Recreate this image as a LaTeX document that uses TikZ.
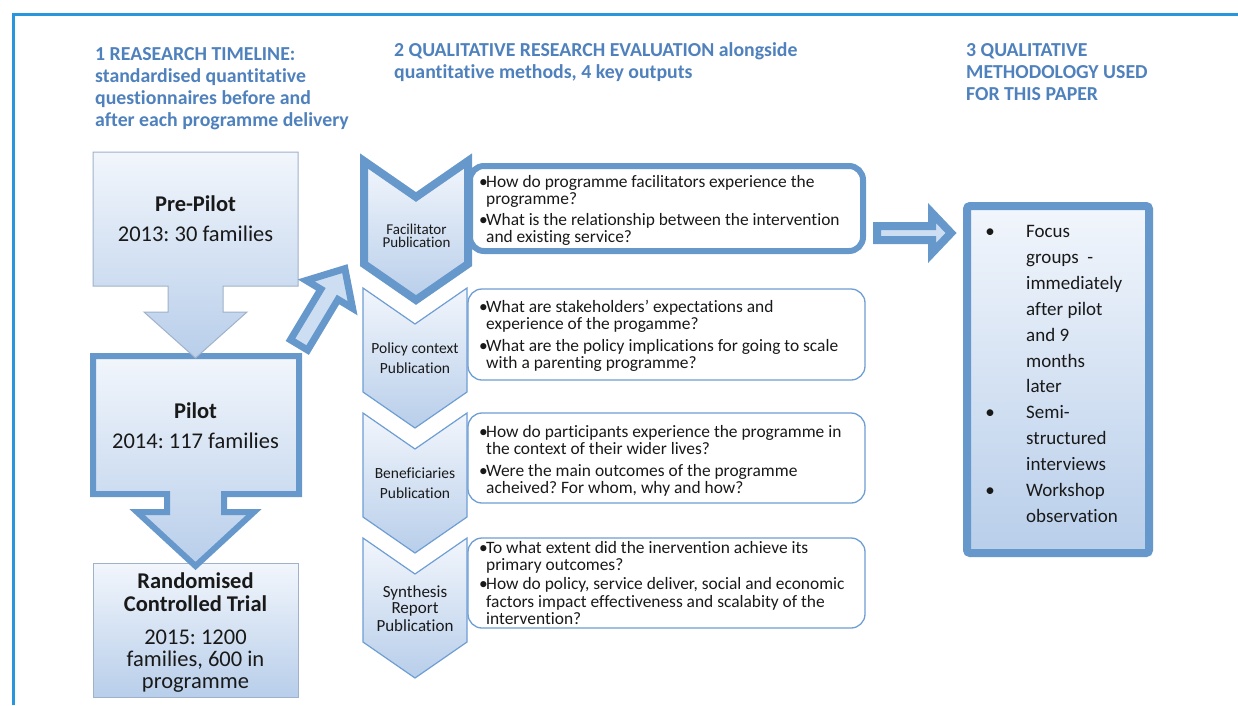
\documentclass[tikz,border=0pt]{standalone}
\usepackage{fontspec}
\setmainfont{Carlito}[Ligatures={NoCommon}]
\frenchspacing
\definecolor{hdr}{RGB}{79,129,189}
\definecolor{frameblue}{RGB}{40,150,220}
\definecolor{thickb}{RGB}{102,152,204}
\definecolor{thinb}{RGB}{110,158,212}
\definecolor{greyb}{RGB}{160,178,202}
\definecolor{ftop}{RGB}{242,246,252}
\definecolor{fbot}{RGB}{184,206,234}
\definecolor{arrfill}{RGB}{205,222,242}
\definecolor{ink}{RGB}{25,25,25}
\tikzset{
  hdrtext/.style={anchor=base west, inner sep=0pt, text=hdr, font=\fontsize{19.8}{23}\selectfont\bfseries},
  bigtitle/.style={anchor=base, inner sep=0pt, text=ink, font=\fontsize{22.5}{27}\selectfont\bfseries},
  bigtext/.style={anchor=base, inner sep=0pt, text=ink, font=\fontsize{22.5}{27}\selectfont},
  chevlab/.style={anchor=base, inner sep=0pt, text=ink, font=\fontsize{15.5}{18}\selectfont},
  boxtext/.style={anchor=base west, inner sep=0pt, text=ink, font=\fontsize{17.4}{20}\selectfont},
  rtext/.style={anchor=base west, inner sep=0pt, text=ink, font=\fontsize{19}{23}\selectfont},
  rbullet/.style={anchor=base, inner sep=0pt, text=ink, font=\fontsize{19}{23}\selectfont},
  thinshape/.style={draw=greyb, line width=1pt, top color=ftop, bottom color=fbot},
  thickshape/.style={draw=thickb, line width=6pt, top color=ftop, bottom color=fbot},
  chevthin/.style={draw=thinb, line width=1.2pt, top color=ftop, bottom color=fbot},
  qbox/.style={draw=thinb, line width=1.3pt, fill=white, rounded corners=14pt},
}
\begin{document}
\begin{tikzpicture}[x=1pt, y=-1pt]
\useasboundingbox (0,0) rectangle (1238,705);
\fill[white] (0,0) rectangle (1238,705);
% frame
\draw[frameblue, line width=2.4pt] (13.5,705) -- (13.5,14.5) -- (1238,14.5);

% headers
\node[hdrtext] (h1a) at (95,60) {1 REASEARCH TIMELINE:};
\node[hdrtext] (h1b) at (95,82) {standardised quantitative};
\node[hdrtext] (h1c) at (95,104) {questionnaires before and};
\node[hdrtext] (h1d) at (95,126) {after each programme delivery};
\node[hdrtext] (h2a) at (394,56) {2 QUALITATIVE RESEARCH EVALUATION alongside};
\node[hdrtext] (h2b) at (394,78) {quantitative methods, 4 key outputs};
\node[hdrtext] (h3a) at (966,56) {3 QUALITATIVE};
\node[hdrtext] (h3b) at (966,78) {METHODOLOGY USED};
\node[hdrtext] (h3c) at (966,100) {FOR THIS PAPER};

% left column
\path[thinshape] (93,563) rectangle (298,697);
\path[thickshape, line join=miter] (93,356) -- (299,356) -- (299,494) -- (224,494) -- (224,512) -- (254,512) -- (195.5,566) -- (137,512) -- (167,512) -- (167,494) -- (93,494) -- cycle;
\path[thinshape] (93,152) -- (298,152) -- (298,286) -- (223,286) -- (223,312) -- (247,312) -- (195.5,358) -- (144,312) -- (168,312) -- (168,286) -- (93,286) -- cycle;

\node[bigtitle] (pp1) at (195.5,211) {Pre-Pilot};
\node[bigtext] (pp2) at (195.5,241.5) {2013: 30 families};
\node[bigtitle] (pi1) at (195.5,418) {Pilot};
\node[bigtext] (pi2) at (195.5,448) {2014: 117 families};
\node[bigtitle] (rc1) at (195.5,588) {Randomised};
\node[bigtitle] (rc2) at (195.5,611) {Controlled Trial};
\node[bigtext] (rc3) at (195.5,644) {2015: 1200};
\node[bigtext] (rc4) at (195.5,666.5) {families, 600 in};
\node[bigtext] (rc5) at (195.5,688) {programme};

% diagonal block arrow
\begin{scope}[shift={(297.5,347.5)}, rotate=59]
\path[draw=thickb, line width=7pt, fill=arrfill, line join=miter]
  (3,-10) -- (62,-10) -- (62,-27) -- (92,0) -- (62,27) -- (62,10) -- (3,10) -- cycle;
\end{scope}

% chevrons
\path[chevthin] (363,538) -- (415,574) -- (467,538) -- (467,642) -- (415,678) -- (363,642) -- cycle;
\path[chevthin] (363,413) -- (415,449) -- (467,413) -- (467,517) -- (415,553) -- (363,517) -- cycle;
\path[chevthin] (363,288) -- (415,324) -- (467,288) -- (467,392) -- (415,428) -- (363,392) -- cycle;
\path[thickshape, line width=8pt, line join=miter] (364,161) -- (416,197) -- (468,161) -- (468,264) -- (416,300) -- (364,264) -- cycle;

% question boxes
\path[qbox] (468,538) rectangle (865,628);
\path[qbox] (468,413) rectangle (865,503);
\path[qbox] (468,289) rectangle (865,380);
\path[draw=thickb, line width=6pt, fill=white, rounded corners=14pt] (470,166) rectangle (863,251);

% chevron labels
\node[chevlab, font=\fontsize{15}{17}\selectfont] (c1a) at (416.5,234) {Facilitator};
\node[chevlab, font=\fontsize{15}{17}\selectfont] (c1b) at (416.5,247.5) {Publication};
\node[chevlab] (c2a) at (415,353) {Policy context};
\node[chevlab] (c2b) at (415,373) {Publication};
\node[chevlab] (c3a) at (415,478.5) {Beneficiaries};
\node[chevlab] (c3b) at (415,498.5) {Publication};
\node[chevlab, font=\fontsize{17}{20}\selectfont] (c4a) at (415,597) {Synthesis};
\node[chevlab, font=\fontsize{17}{20}\selectfont] (c4b) at (415,613.5) {Report};
\node[chevlab, font=\fontsize{17}{20}\selectfont] (c4c) at (415,631) {Publication};

% box 1 text
\node[boxtext] (b1u) at (479,187) {•};
\node[boxtext] (b1a) at (486,187) {How do programme facilitators experience the};
\node[boxtext] (b1b) at (486,204) {programme?};
\node[boxtext] (b1v) at (479,225) {•};
\node[boxtext] (b1c) at (486,225) {What is the relationship between the intervention};
\node[boxtext] (b1d) at (486,242) {and existing service?};
% box 2 text
\node[boxtext] (b2u) at (479,312) {•};
\node[boxtext] (b2a) at (486,312) {What are stakeholders' expectations and};
\node[boxtext] (b2b) at (486,329.5) {experience of the progamme?};
\node[boxtext] (b2v) at (479,351) {•};
\node[boxtext] (b2c) at (486,351) {What are the policy implications for going to scale};
\node[boxtext] (b2d) at (486,368.5) {with a parenting programme?};
% box 3 text
\node[boxtext] (b3u) at (479,437) {•};
\node[boxtext] (b3a) at (486,437) {How do participants experience the programme in};
\node[boxtext] (b3b) at (486,454.5) {the context of their wider lives?};
\node[boxtext] (b3v) at (479,476) {•};
\node[boxtext] (b3c) at (486,476) {Were the main outcomes of the programme};
\node[boxtext] (b3d) at (486,493.5) {acheived? For whom, why and how?};
% box 4 text
\node[boxtext] (b4u) at (479,553) {•};
\node[boxtext] (b4a) at (486,553) {To what extent did the inervention achieve its};
\node[boxtext] (b4b) at (486,570) {primary outcomes?};
\node[boxtext] (b4v) at (479,589.5) {•};
\node[boxtext] (b4c) at (486,589.5) {How do policy, service deliver, social and economic};
\node[boxtext] (b4d) at (486,607) {factors impact effectiveness and scalabity of the};
\node[boxtext] (b4e) at (486,624) {intervention?};

% right arrow
\path[draw=thickb, line width=8pt, fill=arrfill, line join=miter]
  (877,226) -- (932,226) -- (932,213) -- (951,233) -- (932,253) -- (932,240) -- (877,240) -- cycle;

% right box
\path[draw=thickb, line width=8pt, top color=ftop, bottom color=fbot, rounded corners=3pt] (967,206) rectangle (1149,553);
\node[rbullet] (rb1) at (990,237.5) {•};
\node[rtext] (r1) at (1026,237.5) {Focus};
\node[rtext] (r2) at (1026,263.4) {groups\ \ -};
\node[rtext] (r3) at (1026,289.3) {immediately};
\node[rtext] (r4) at (1026,315.2) {after pilot};
\node[rtext] (r5) at (1026,341.1) {and 9};
\node[rtext] (r6) at (1026,367) {months};
\node[rtext] (r7) at (1026,392.9) {later};
\node[rbullet] (rb2) at (990,418.8) {•};
\node[rtext] (r8) at (1026,418.8) {Semi-};
\node[rtext] (r9) at (1026,444.7) {structured};
\node[rtext] (r10) at (1026,470.6) {interviews};
\node[rbullet] (rb3) at (990,496.5) {•};
\node[rtext] (r11) at (1026,496.5) {Workshop};
\node[rtext] (r12) at (1026,522.4) {observation};
\end{tikzpicture}
\end{document}
